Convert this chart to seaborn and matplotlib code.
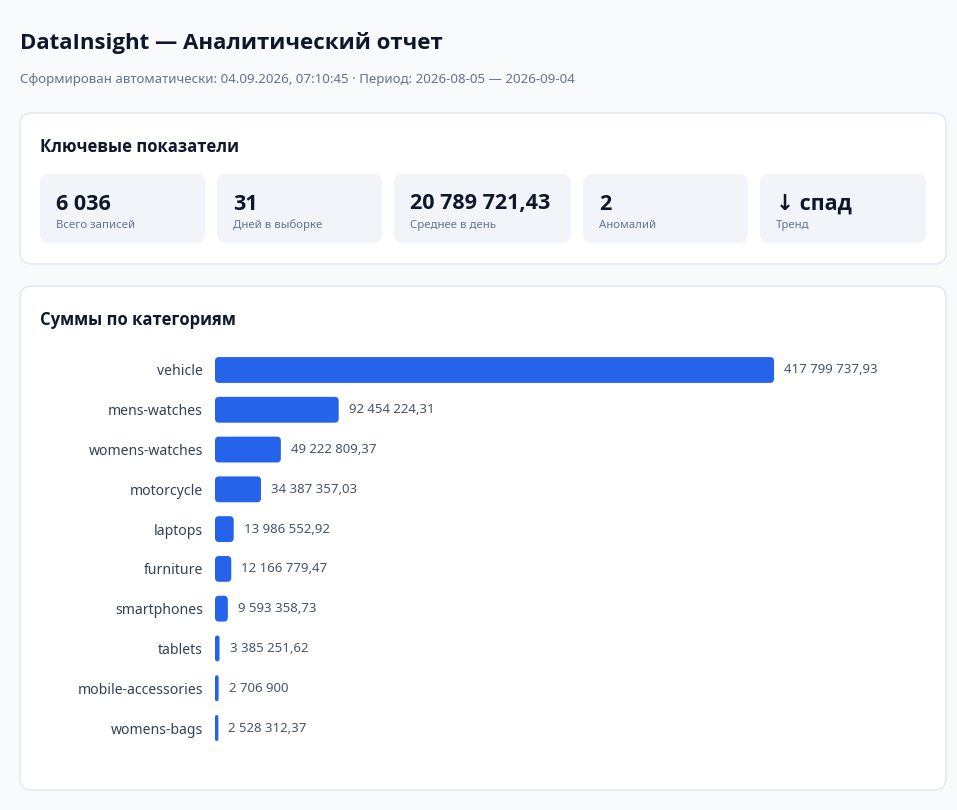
import matplotlib
matplotlib.use("Agg")
import matplotlib.pyplot as plt
from matplotlib.patches import FancyBboxPatch
import pandas as pd
import seaborn as sns

categories = ["vehicle", "mens-watches", "womens-watches", "motorcycle", "laptops",
              "furniture", "smartphones", "tablets", "mobile-accessories", "womens-bags"]
values = [417799737.93, 92454224.31, 49222809.37, 34387357.03, 13986552.92,
          12166779.47, 9593358.73, 3385251.62, 2706900.00, 2528312.37]

kpi_values = ["6 036", "31", "20 789 721,43", "2", "↓ спад"]
kpi_labels = ["Всего записей", "Дней в выборке", "Среднее в день", "Аномалий", "Тренд"]

title = "DataInsight — Аналитический отчет"
subtitle = "Сформирован автоматически: 04.09.2026, 07:10:45 · Период: 2026-08-05 — 2026-09-04"

sns.set_theme(style="white")
plt.rcParams['font.family'] = ['Noto Sans', 'DejaVu Sans']
BOLD = ['Open Sans', 'Roboto', 'DejaVu Sans']

W, H = 957, 810
fig = plt.figure(figsize=(W / 100, H / 100), dpi=100)
fig.patch.set_facecolor('#f8fafc')

# background layer in pixel coords
bg = fig.add_axes([0, 0, 1, 1])
bg.set_xlim(0, W)
bg.set_ylim(H, 0)
bg.axis('off')


def card(x0, y0, x1, y1, fc, ec, r):
    bg.add_patch(FancyBboxPatch((x0, y0), x1 - x0, y1 - y0,
                                boxstyle=f"round,pad=0,rounding_size={r}",
                                fc=fc, ec=ec, lw=1))


bg.text(20, 43, title, fontsize=16, fontweight='bold', family=BOLD, color='#0f172a', va='center')
bg.text(20, 80, subtitle, fontsize=9.55, color='#64748b', va='center')

card(20, 113, 946, 264, 'white', '#e2e8f0', 12)
bg.text(40, 147, "Ключевые показатели", fontsize=12, fontweight='bold', family=BOLD,
        color='#0f172a', va='center')

tile_x = [(40, 205), (217, 382), (394, 571), (583, 748), (760, 926)]
for (x0, x1), v, lab in zip(tile_x, kpi_values, kpi_labels):
    card(x0, 174, x1, 243, '#f1f5f9', 'none', 9)
    bg.text(x0 + 16, 204, v, fontsize=15.5, fontweight='bold', family=BOLD,
            color='#0f172a', va='center')
    bg.text(x0 + 16, 225.5, lab, fontsize=8.2, color='#64748b', va='center')

card(20, 286, 946, 790, 'white', '#e2e8f0', 12)
bg.text(40, 320, "Суммы по категориям", fontsize=12, fontweight='bold', family=BOLD,
        color='#0f172a', va='center')

# bar chart axes
ax_l, ax_r, ax_t, ax_b = 215, 926, 350.1, 747.9
ax = fig.add_axes([ax_l / W, (H - ax_b) / H, (ax_r - ax_l) / W, (ax_b - ax_t) / H])
ax.set_facecolor('none')

df = pd.DataFrame({"category": categories, "value": values})
sns.barplot(data=df, y="category", x="value", color="#2563eb", width=0.65,
            saturation=1, ax=ax, orient='h')

vmax = max(values)
ax.set_xlim(0, vmax * (ax_r - ax_l) / 559)
ax.set_ylim(len(categories) - 0.5, -0.5)

# rounded bars
px_x = ax.get_xlim()[1] / (ax_r - ax_l)
px_y = (len(categories)) / (ax_b - ax_t)
r_px = 4
for p in list(ax.patches):
    x, y, w, h = p.get_x(), p.get_y(), p.get_width(), p.get_height()
    r = min(r_px * px_x, w / 2)
    p.remove()
    ax.add_patch(FancyBboxPatch((x, y), w, h,
                                boxstyle=f"round,pad=0,rounding_size={r}",
                                mutation_aspect=px_y / px_x,
                                fc='#2563eb', ec='none'))


def fmt(v):
    if abs(v - round(v)) < 1e-9:
        return f"{int(round(v)):,}".replace(",", " ")
    s = f"{v:,.2f}"
    return s.replace(",", " ").replace(".", ",")


for i, v in enumerate(values):
    ax.annotate(fmt(v), (v, i), xytext=(10, 0), textcoords='offset pixels',
                va='center', ha='left', fontsize=9.5, color='#475569')

ax.set_xlabel("")
ax.set_ylabel("")
ax.set_xticks([])
ax.tick_params(axis='y', length=0, pad=8.6, labelsize=10.1, labelcolor='#334155')
for s in ax.spines.values():
    s.set_visible(False)

fig.savefig("out.png", dpi=100, facecolor=fig.get_facecolor())
